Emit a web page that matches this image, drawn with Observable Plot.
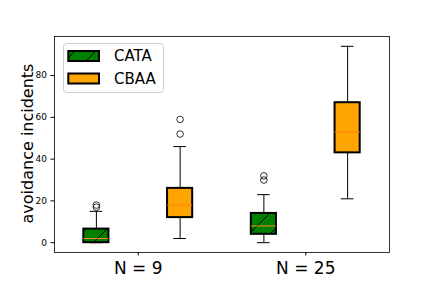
<!DOCTYPE html>
<html>
<head>
<meta charset="utf-8">
<script src="https://cdn.jsdelivr.net/npm/d3@7"></script>
<script src="https://cdn.jsdelivr.net/npm/@observablehq/plot@0.6"></script>
<style>
  html, body { margin: 0; padding: 0; background: #fff; }
  #chart { width: 432px; height: 288px; }
</style>
</head>
<body>
<div id="chart"></div>
<script>
// ---- data ----
const groups = ["N = 9", "N = 25"];
const methods = ["CATA", "CBAA"];
const positions = [0.75, 1.25, 1.75, 2.25];   // CATA N=9, CBAA N=9, CATA N=25, CBAA N=25
const boxMethod = ["CATA", "CBAA", "CATA", "CBAA"];
const whiskerLow = [0, 2, 0, 21];
const q1 = [0, 12, 4, 43];
const median = [2, 18, 8, 53];
const q3 = [6.5, 26, 14, 67];
const whiskerHigh = [15, 46, 23, 94];
const outliers = [[17, 18], [52, 59], [30, 32], []];
const yTicks = [0, 20, 40, 60, 80];

const boxWidth = 0.15;
const capWidth = 0.075;

const boxes = positions.map((p, i) => ({
  x: p, method: boxMethod[i],
  lo: whiskerLow[i], q1: q1[i], med: median[i], q3: q3[i], hi: whiskerHigh[i]
}));
const fliers = positions.flatMap((p, i) => outliers[i].map(v => ({x: p, y: v})));
const cata = boxes.filter(d => d.method === "CATA");
const cbaa = boxes.filter(d => d.method === "CBAA");

const HATCH_KEY = "#008001";

const chart = Plot.plot({
  width: 432,
  height: 288,
  marginLeft: 54,
  marginRight: 43,
  marginTop: 36,
  marginBottom: 36,
  style: {fontFamily: "DejaVu Sans", fontSize: "9px", color: "#000", background: "#fff"},
  x: {domain: [0.5, 2.5], ticks: [1, 2], tickFormat: d => groups[d - 1], tickSize: 3.5, tickPadding: 5.7, label: null},
  y: {domain: [-4.7, 98.7], ticks: yTicks, tickSize: 3.5, tickPadding: 4, label: null},
  marks: [
    Plot.ruleX(boxes, {x: "x", y1: "lo", y2: "q1", stroke: "black", strokeWidth: 1}),
    Plot.ruleX(boxes, {x: "x", y1: "q3", y2: "hi", stroke: "black", strokeWidth: 1}),
    Plot.ruleY(boxes, {y: "lo", x1: d => d.x - capWidth / 2, x2: d => d.x + capWidth / 2, stroke: "black", strokeWidth: 1}),
    Plot.ruleY(boxes, {y: "hi", x1: d => d.x - capWidth / 2, x2: d => d.x + capWidth / 2, stroke: "black", strokeWidth: 1}),
    Plot.rect(cata, {x1: d => d.x - boxWidth / 2, x2: d => d.x + boxWidth / 2, y1: "q1", y2: "q3", fill: HATCH_KEY, stroke: "black", strokeWidth: 2}),
    Plot.rect(cbaa, {x1: d => d.x - boxWidth / 2, x2: d => d.x + boxWidth / 2, y1: "q1", y2: "q3", fill: "orange", stroke: "black", strokeWidth: 2}),
    Plot.ruleY(boxes, {y: "med", x1: d => d.x - boxWidth / 2, x2: d => d.x + boxWidth / 2, stroke: "#ff7f0e", strokeWidth: 1}),
    Plot.dot(fliers, {x: "x", y: "y", r: 3.3, stroke: "black", strokeWidth: 0.8, fill: "none"}),
    Plot.frame({stroke: "black", strokeWidth: 0.8})
  ]
});

document.getElementById("chart").appendChild(chart);

const svg = d3.select(chart);
// hatch pattern (matplotlib '/' hatch on green)
const defs = svg.insert("defs", ":first-child");
const pat = defs.append("pattern")
  .attr("id", "hatch").attr("patternUnits", "userSpaceOnUse")
  .attr("width", 21).attr("height", 21);
pat.append("rect").attr("width", 21).attr("height", 21).attr("fill", "green");
pat.append("path")
  .attr("d", "M-1,1L1,-1M0,21L21,0M20,22L22,20")
  .attr("stroke", "black").attr("stroke-width", 1).attr("fill", "none");

svg.selectAll(`[fill="${HATCH_KEY}"]`).attr("fill", "url(#hatch)");

// x tick labels larger
svg.selectAll('g[aria-label="x-axis tick label"] text, g[aria-label="x-axis tick label"]').style("font-size", "17px");

// y axis label
svg.append("text")
  .attr("transform", "translate(33,143.5) rotate(-90)")
  .attr("text-anchor", "middle")
  .style("font-size", "16px")
  .attr("fill", "#000")
  .text("avoidance incidents");

// legend (inside upper-left of the axes)
const lg = svg.append("g").attr("class", "legend").attr("text-anchor", "start");
lg.append("rect").attr("x", 63.5).attr("y", 43.5).attr("width", 100).attr("height", 49).attr("rx", 3)
  .attr("fill", "white").attr("fill-opacity", 0.8).attr("stroke", "#cccccc").attr("stroke-width", 1);
const legendFills = ["url(#hatch)", "orange"];
methods.forEach((m, i) => {
  const yTop = 51 + i * 22.5;
  lg.append("rect").attr("x", 68.3).attr("y", yTop).attr("width", 30.7).attr("height", 10)
    .attr("fill", legendFills[i]).attr("stroke", "black").attr("stroke-width", 2);
  lg.append("text").attr("x", 114).attr("y", 61 + i * 23)
    .attr("text-anchor", "start")
    .style("font-size", "15px").attr("fill", "#000").text(m);
});
</script>
</body>
</html>
